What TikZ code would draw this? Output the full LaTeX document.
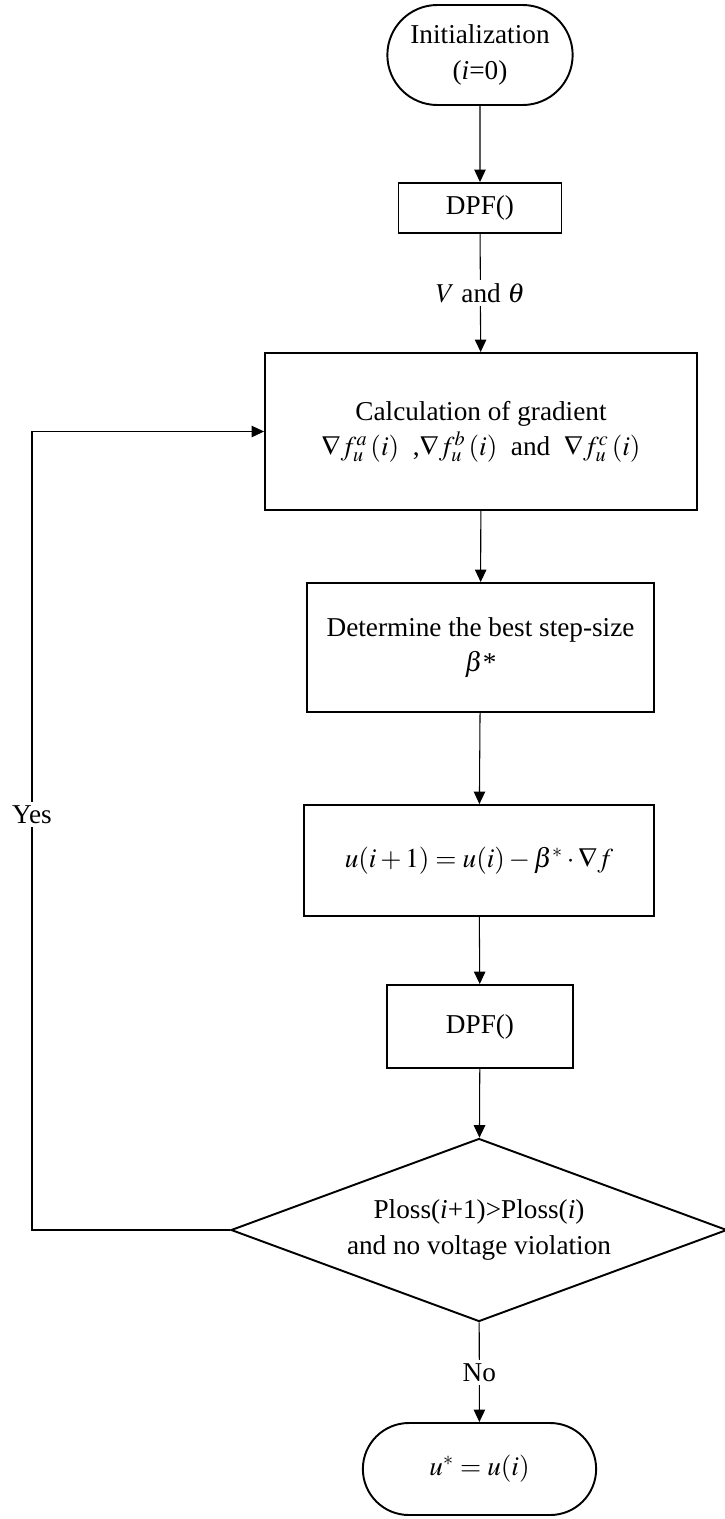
\documentclass[tikz,border=0pt]{standalone}
\usepackage{amsmath}
\usepackage{mathptmx}
\usepackage{fontspec}
\setmainfont{Liberation Serif}
\usetikzlibrary{positioning,arrows.meta,shapes.misc,shapes.geometric}
\tikzset{
  proc/.style={draw,line width=1.1pt,align=center,inner sep=2pt},
  term/.style={rounded rectangle,draw,line width=1.1pt,align=center},
  dec/.style={diamond,draw,line width=1.1pt,align=center,aspect=2.7,inner sep=0pt},
  flow/.style={line width=0.6pt,-{Triangle[length=0.25cm,width=0.23cm]}},
  clab/.style={fill=white,inner sep=2pt},
  every node/.style={font=\fontsize{15.5}{20}\selectfont}
}

\begin{document}
\begin{tikzpicture}
      \useasboundingbox (0,0) rectangle (14.5,-30.38);
      \node[term,minimum width=3.94cm,minimum height=2cm] (init) at (9.6,-1.1) {Initialization\\(\textit{i}=0)};
      \node[proc,minimum width=3.26cm,minimum height=1cm] (dpfa) at (9.6,-4.16) {DPF()};
      \node[proc,minimum width=8.64cm,minimum height=3.14cm] (calc) at (9.62,-8.63) {Calculation of gradient\\$\nabla f_u^{a}\,(i)$\ \ ,$\nabla f_u^{b}\,(i)$\ \ and\ \ $\nabla f_u^{c}\,(i)$};
      \node[proc,minimum width=6.94cm,minimum height=2.58cm] (stp) at (9.61,-12.95) {Determine the best step-size\\$\beta$*};
      \node[proc,minimum width=7cm,minimum height=2.22cm] (upd) at (9.58,-17.21) {$u(i+1)=u(i)-\beta^{*}\cdot\nabla f$};
      \node[proc,minimum width=3.72cm,minimum height=1.66cm] (dpfb) at (9.6,-20.53) {DPF()};
      \node[dec,minimum width=9.92cm,minimum height=3.66cm] (chk) at (9.58,-24.6) {Ploss(\textit{i}+1)>Ploss(\textit{i})\\and no voltage violation};
      \node[term,minimum width=4.9cm,minimum height=1.84cm] (fin) at (9.59,-29.38) {$u^{*}=u(i)$};
      \coordinate (lx) at (0.64,0);
      % main flow
      \draw[flow] (init) -- (dpfa);
      \draw[flow] (dpfa) -- node[clab,pos=0.5] (vt) {$V$ and $\theta$} (calc);
      \draw[flow] (calc) -- (stp);
      \draw[flow] (stp) -- (upd);
      \draw[flow] (upd) -- (dpfb);
      \draw[flow] (dpfb) -- (chk);
      \draw[flow] (chk) -- node[clab,pos=0.5] (no) {No} (fin);
      % loop back
      \draw[flow] (chk.west) -- (chk.west -| lx) -- node[clab,pos=0.52] (yes) {Yes} (calc.west -| lx) -- (calc.west);
\end{tikzpicture}
\end{document}
